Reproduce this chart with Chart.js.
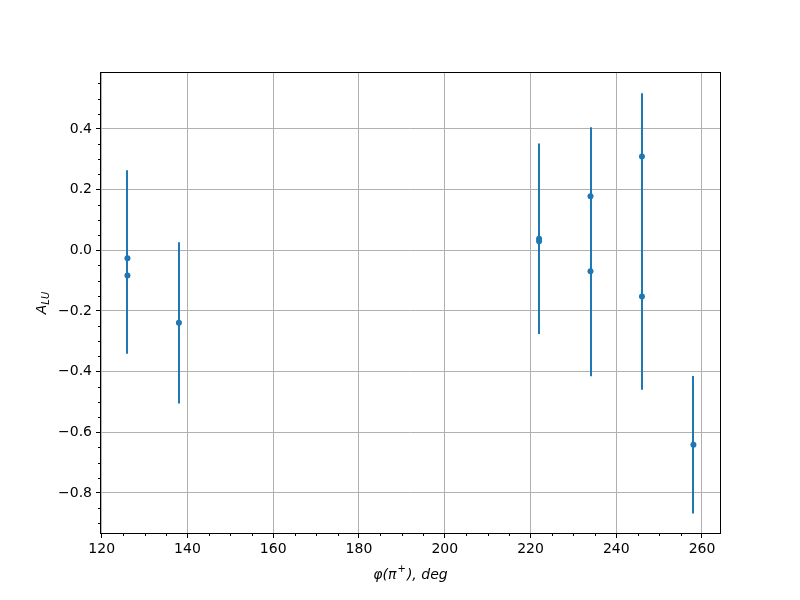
<!DOCTYPE html>
<html>
<head>
<meta charset="utf-8">
<script src="https://cdn.jsdelivr.net/npm/chart.js@4.4.1/dist/chart.umd.min.js"></script>
<style>
  html, body { margin: 0; padding: 0; background: #fff; }
  #wrap { width: 800px; height: 600px; }
</style>
</head>
<body>
<div id="wrap"><canvas id="c" width="800" height="600"></canvas></div>
<script>
// phi(pi+) in degrees, asymmetry value and its error
var phi_deg = [126, 126, 138, 222, 222, 234, 234, 246, 246, 258]
var a_lu = [-0.026, -0.083, -0.239, 0.038, 0.030, 0.178, -0.069, 0.309, -0.152, -0.641]
var a_lu_err = [0.29, 0.258, 0.266, 0.314, 0.30, 0.228, 0.346, 0.209, 0.308, 0.227]

var x_ticks = [120, 140, 160, 180, 200, 220, 240, 260]
var y_ticks = [-0.8, -0.6, -0.4, -0.2, 0.0, 0.2, 0.4]

var blue = "#1f77b4"
var font = "DejaVu Sans"

var points = []
for (var i in phi_deg) {
    points.push({x: phi_deg[i], y: a_lu[i]})
}

var frame = {
    id: "frame",
    beforeDatasetsDraw: function (chart) {
        // vertical error bars, drawn under the markers
        var ctx = chart.ctx
        var xs = chart.scales.x, ys = chart.scales.y
        ctx.save()
        ctx.strokeStyle = blue
        ctx.lineWidth = 2
        for (var i in phi_deg) {
            var px = Math.round(xs.getPixelForValue(phi_deg[i]))
            ctx.beginPath()
            ctx.moveTo(px, ys.getPixelForValue(a_lu[i] + a_lu_err[i]))
            ctx.lineTo(px, ys.getPixelForValue(a_lu[i] - a_lu_err[i]))
            ctx.stroke()
        }
        ctx.restore()
    },
    afterDraw: function (chart) {
        var ctx = chart.ctx
        var a = chart.chartArea
        var xs = chart.scales.x, ys = chart.scales.y
        ctx.save()
        ctx.strokeStyle = "#000"
        ctx.lineWidth = 1
        ctx.strokeRect(a.left - 0.5, a.top - 0.5, a.right - a.left + 1, a.bottom - a.top + 1)
        // minor ticks
        ctx.beginPath()
        for (var v = 120; v <= 264; v += 5) {
            if (v % 20 == 0) continue
            var px = Math.round(xs.getPixelForValue(v)) + 0.5
            ctx.moveTo(px, a.bottom)
            ctx.lineTo(px, a.bottom + 3)
        }
        for (var k = -18; k <= 11; k++) {
            if (k % 4 == 0) continue
            var py = Math.round(ys.getPixelForValue(k * 0.05)) + 0.5
            ctx.moveTo(a.left, py)
            ctx.lineTo(a.left - 3, py)
        }
        ctx.stroke()

        // axis labels
        ctx.fillStyle = "#000"
        ctx.textBaseline = "alphabetic"
        var xl1 = "\u03c6(\u03c0", xl2 = "+", xl3 = "), deg"
        ctx.font = "italic 14px " + font
        var w1 = ctx.measureText(xl1).width, w3 = ctx.measureText(xl3).width
        ctx.font = "italic 10px " + font
        var w2 = ctx.measureText(xl2).width + 2
        var cx = (a.left + a.right) / 2
        var x0 = cx - (w1 + w2 + w3) / 2
        var base = 579
        ctx.font = "italic 14px " + font
        ctx.textAlign = "left"
        ctx.fillText(xl1, x0, base)
        ctx.font = "italic 10px " + font
        ctx.fillText(xl2, x0 + w1 + 1, base - 7)
        ctx.font = "italic 14px " + font
        ctx.fillText(xl3, x0 + w1 + w2, base)

        // y label A_LU rotated
        ctx.translate(46, (a.top + a.bottom) / 2)
        ctx.rotate(-Math.PI / 2)
        ctx.font = "italic 14px " + font
        var wa = ctx.measureText("A").width
        ctx.font = "italic 10px " + font
        var wl = ctx.measureText("LU").width
        var y0 = -(wa + wl) / 2
        ctx.font = "italic 14px " + font
        ctx.fillText("A", y0, 0)
        ctx.font = "italic 10px " + font
        ctx.fillText("LU", y0 + wa, 3)
        ctx.restore()
    }
}

function fmt_y(v) {
    var s = Math.abs(v).toFixed(1)
    return (v < -1e-9 ? "\u2212" : "") + s
}

new Chart(document.getElementById("c"), {
    type: "scatter",
    data: {
        datasets: [{
            data: points,
            backgroundColor: blue,
            borderColor: blue,
            pointRadius: 3,
            pointBorderWidth: 0
        }]
    },
    options: {
        responsive: false,
        animation: false,
        events: [],
        layout: {padding: {top: 73, right: 80, left: 0, bottom: 0}},
        plugins: {legend: {display: false}, tooltip: {enabled: false}},
        scales: {
            x: {
                type: "linear",
                min: 119.83,
                max: 264.2,
                afterBuildTicks: function (s) { s.ticks = x_ticks.map(function (v) { return {value: v} }) },
                afterFit: function (s) { s.height = 67 },
                grid: {color: "#b0b0b0", lineWidth: 1, tickLength: 5, tickColor: "#000"},
                border: {display: false},
                ticks: {color: "#000", font: {family: font, size: 14}, padding: 3, maxRotation: 0}
            },
            y: {
                type: "linear",
                min: -0.932,
                max: 0.5846,
                afterBuildTicks: function (s) { s.ticks = y_ticks.map(function (v) { return {value: v} }) },
                afterFit: function (s) { s.width = 101 },
                grid: {color: "#b0b0b0", lineWidth: 1, tickLength: 5, tickColor: "#000"},
                border: {display: false},
                ticks: {color: "#000", font: {family: font, size: 14}, padding: 4,
                    callback: function (v) { return fmt_y(v) }}
            }
        }
    },
    plugins: [frame]
})
</script>
</body>
</html>
